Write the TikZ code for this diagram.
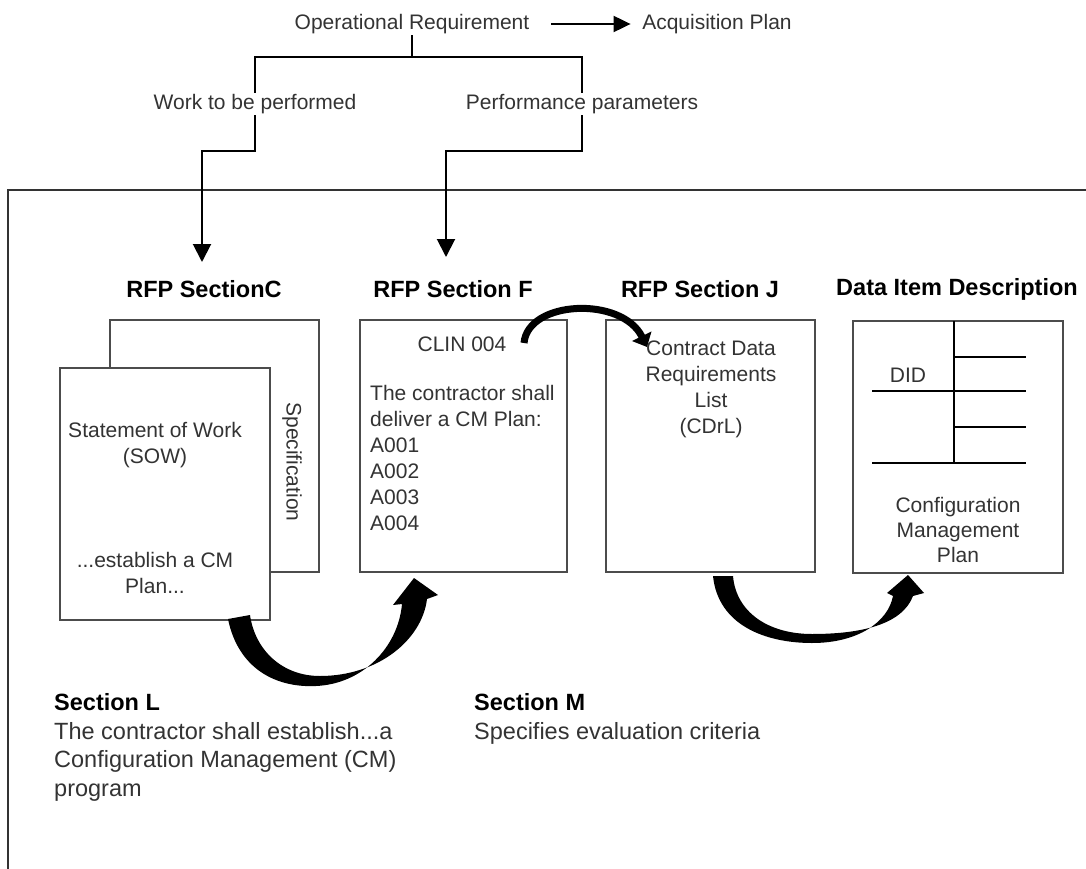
\documentclass[tikz,border=0pt]{standalone}
\usepackage{fontspec}
\setmainfont{Liberation Sans}
\usetikzlibrary{arrows.meta}
\begin{document}
\begin{tikzpicture}[x=1pt,y=-1pt,
  lbl/.style={inner sep=1.5pt, text=black!80, font=\fontsize{21}{26}\selectfont},
  hdr/.style={inner sep=0pt, font=\fontsize{23.5}{28}\selectfont\bfseries},
  bottomtext/.style={inner sep=0pt, anchor=west, align=left, text=black!80, font=\fontsize{23.5}{28.5}\selectfont},
  box/.style={draw=black!70, line width=1.8pt, fill=white, inner sep=0pt, minimum height=252pt},
  ln/.style={line width=2pt, draw=black},
  arr/.style={ln, -{Triangle[length=18pt,width=18pt]}},
  big/.style={fill=black},
]
\useasboundingbox (0,0) rectangle (1086,869);
% frame
\coordinate (fbl) at (8,869);
\coordinate (ftl) at (8,190);
\coordinate (ftr) at (1086,190);
\draw[line width=1.6pt, draw=black!80] (fbl) -- (ftl) -- (ftr);

% top tree
\node[lbl] (or) at (412,24) {Operational Requirement};
\node[lbl] (acq) at (717,24) {Acquisition Plan};
\node[lbl] (work) at (255,104) {Work to be performed};
\node[lbl] (perf) at (582,104) {Performance parameters};
\coordinate (j) at (412,57);
\coordinate (k) at (0,151);
\coordinate (c1) at (202,262);
\coordinate (c2) at (446,257);
\draw[ln, -{Triangle[length=17pt,width=16pt]}] ([xshift=20pt]or.east) -- ([xshift=-10pt]acq.west);
\draw[ln] (or.south) -- (or.south |- j);
\draw[ln] (work.north) |- (j) -| (perf.north);
\draw[arr] (work.south) -- (work.south |- k) -| (c1);
\draw[arr] (perf.south) -- (perf.south |- k) -| (c2);

% headers
\node[hdr] (hC) at (204,289) {RFP SectionC};
\node[hdr] (hF) at (453,289) {RFP Section F};
\node[hdr] (hJ) at (700,289) {RFP Section J};
\node[hdr] (hD) at (957,289) {Data Item Description};

% boxes
\node[box, minimum width=209pt] (spec) at (214.5,446) {};
\node[lbl, rotate=-90] (spect) at (292,462) {Specification};
\node[box, minimum width=210pt] (sow) at (165,494) {};
\node[lbl, align=center] (sowt) at (155,445.5) {Statement of Work\\(SOW)};
\node[lbl, align=center] (est) at (155,572.5) {...establish a CM\\Plan...};

\node[box, minimum width=207pt] (fbox) at (463.5,446) {};
\node[lbl] (clin) at (462,344) {CLIN 004};
\node[lbl, align=left, anchor=west, inner sep=0pt] (ft) at (370,458) {The contractor shall\\deliver a CM Plan:\\A001\\A002\\A003\\A004};

\node[box, minimum width=209pt] (jbox) at (710.5,446) {};
\node[lbl, align=center] (jt) at (711,389) {Contract Data\\Requirements\\List\\(CDrL)};

\node[box, minimum width=210pt] (dbox) at (958,447) {};
\node[lbl] (did) at (908,375) {DID};
\node[lbl, align=center, font=\fontsize{21}{25}\selectfont] (cmp) at (958,530) {Configuration\\Management\\Plan};
\draw[ln] (954,321) -- (954,463);
\draw[ln] (954,357) -- (1026,357);
\draw[ln] (872,391) -- (1026,391);
\draw[ln] (954,427) -- (1026,427);
\draw[ln] (872,463) -- (1026,463);

% bottom texts
\node[bottomtext] (secL) at (54,747.5) {{\color{black}\bfseries Section L}\\The contractor shall establish...a\\Configuration Management (CM)\\program};
\node[bottomtext] (secM) at (474,719) {{\color{black}\bfseries Section M}\\Specifies evaluation criteria};

% curved arrows
\fill[big] (228,619) .. controls (238,668) and (275,688) .. (316,686)
  .. controls (362,684) and (398,648) .. (402,604)
  -- (393,605) -- (414,578) -- (438,595) -- (427,599)
  .. controls (422,640) and (378,676) .. (320,676)
  .. controls (282,676) and (255,650) .. (250,615) -- cycle;
\coordinate (a2s) at (524,343);
\coordinate (a2e) at (647,347);
\draw[line width=7pt, -{Triangle[length=12pt,width=21pt]}] (a2s) .. controls (528,300) and (622,296) .. (a2e);
\fill[big] (713,576) .. controls (718,625) and (765,643) .. (812,643)
  .. controls (858,643) and (888,622) .. (893,596)
  -- (887,593) -- (908,575) -- (924,593) -- (913,596)
  .. controls (902,625) and (860,634) .. (812,634)
  .. controls (768,634) and (736,612) .. (733,576) -- cycle;
\end{tikzpicture}
\end{document}
